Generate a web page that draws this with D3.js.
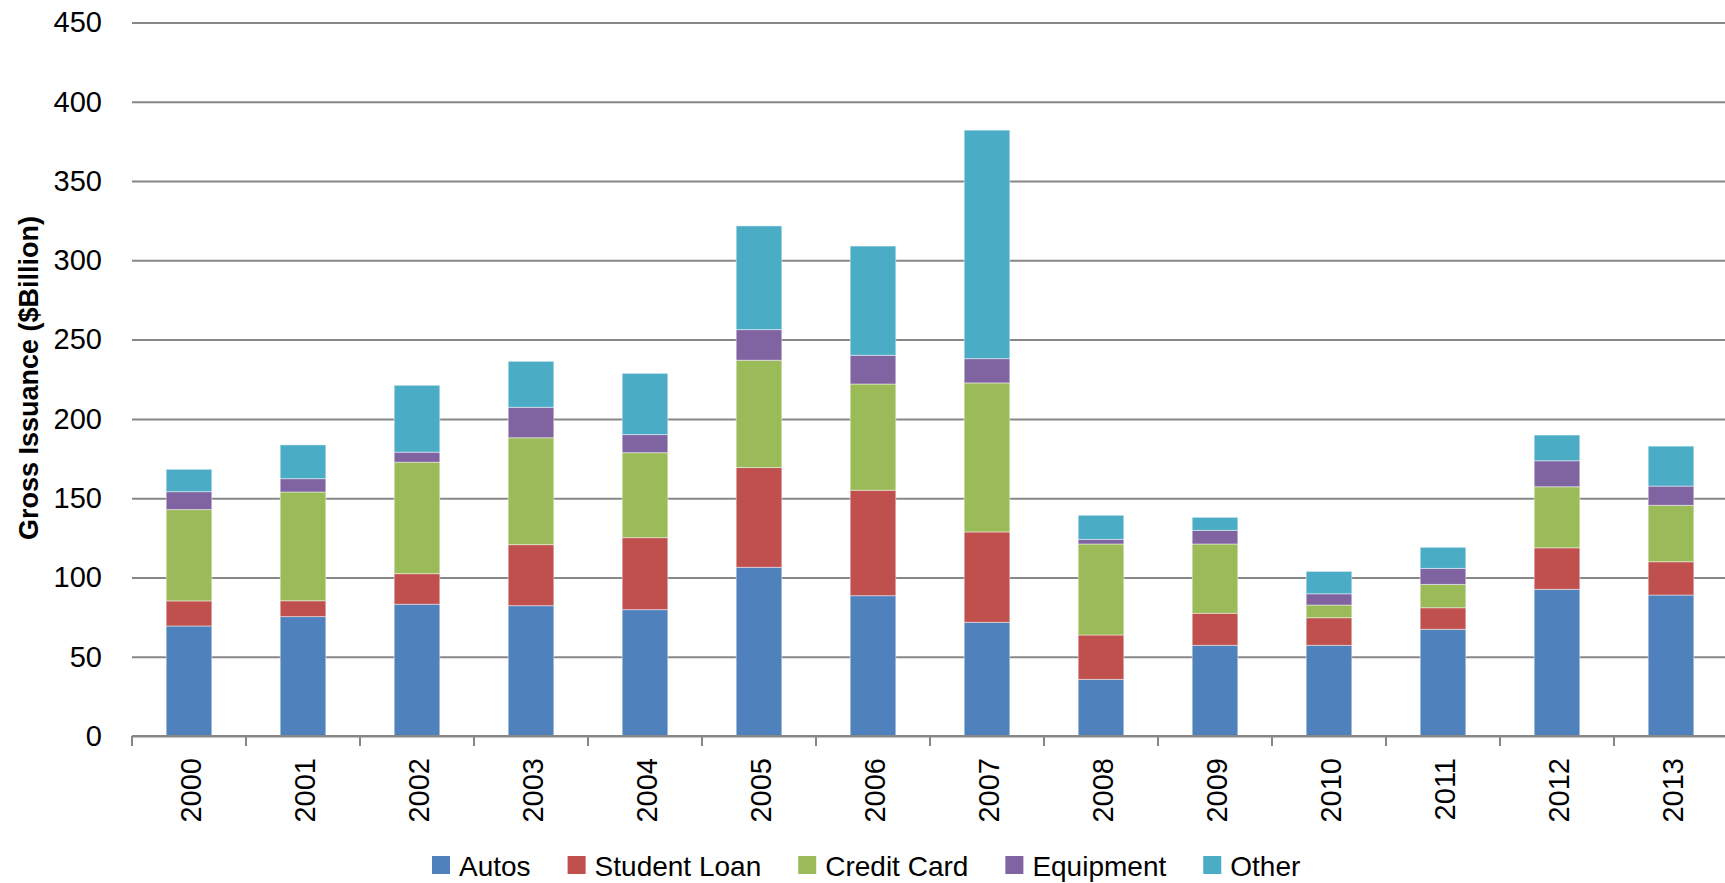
<!DOCTYPE html>
<html>
<head>
<meta charset="utf-8">
<script src="https://cdnjs.cloudflare.com/ajax/libs/d3/7.8.5/d3.min.js"></script>
<style>
  body { margin: 0; background: #fff; }
  text { font-family: "Liberation Sans", Arial, sans-serif; fill: #000; }
</style>
</head>
<body>
<svg id="chart" width="1725" height="883"></svg>
<script>
// values ($Billion)
var years = ["2000", "2001", "2002", "2003", "2004", "2005", "2006", "2007", "2008", "2009", "2010", "2011", "2012", "2013"];
var autos = [69.4, 75.3, 83.1, 82.2, 79.7, 106.4, 88.5, 71.7, 35.7, 57.2, 57.2, 67.3, 92.5, 88.9];
var studentLoan = [15.8, 10.0, 19.3, 38.5, 45.4, 62.9, 66.5, 57.0, 28.0, 20.2, 17.4, 13.6, 26.2, 21.0];
var creditCard = [57.6, 68.6, 70.3, 67.4, 53.6, 67.7, 67.0, 94.0, 57.4, 43.7, 8.0, 14.7, 38.5, 35.6];
var equipment = [11.3, 8.4, 6.3, 19.2, 11.4, 19.3, 18.1, 15.3, 2.9, 8.6, 7.1, 10.1, 16.4, 12.1];
var other = [14.1, 21.3, 42.2, 29.0, 38.6, 65.4, 68.9, 144.1, 15.2, 8.2, 14.1, 13.3, 16.2, 25.2];
var seriesNames = ["Autos", "Student Loan", "Credit Card", "Equipment", "Other"];
var seriesColors = ["#4F81BD", "#C0504D", "#9BBB59", "#8064A2", "#4BACC6"];
var yTicks = [0, 50, 100, 150, 200, 250, 300, 350, 400, 450];

var svg = d3.select("#chart");

var rows = years.map(function(y, i) {
    return { year: y, "Autos": autos[i], "Student Loan": studentLoan[i], "Credit Card": creditCard[i],
             "Equipment": equipment[i], "Other": other[i] };
});

var x = d3.scaleBand()
    .domain(years)
    .range([132, 1728])
    .paddingInner(0.6)
    .paddingOuter(0.3);

var y = d3.scaleLinear()
    .domain([0, 450])
    .range([736, 22.5]);

var color = d3.scaleOrdinal().domain(seriesNames).range(seriesColors);

// gridlines + y labels
var yAxis = svg.append("g")
    .attr("transform", "translate(132,0)")
    .call(d3.axisLeft(y).tickValues(yTicks).tickSize(-1600).tickPadding(30).tickFormat(d3.format("d")));
yAxis.select(".domain").remove();
yAxis.selectAll(".tick line")
    .attr("stroke", "#878787")
    .attr("stroke-width", 2);
yAxis.selectAll(".tick text")
    .style("font-size", "29px")
    .attr("fill", "#000");

// stacked bars
var stacked = d3.stack().keys(seriesNames)(rows);

svg.append("g")
    .selectAll("g")
    .data(stacked)
    .enter()
    .append("g")
    .attr("fill", function(d) { return color(d.key); })
    .selectAll("rect")
    .data(function(d) { return d; })
    .enter()
    .append("rect")
    .attr("x", function(d) { return x(d.data.year); })
    .attr("width", x.bandwidth())
    .attr("y", function(d) { return y(d[1]); })
    .attr("height", function(d) { return y(d[0]) - y(d[1]); })
    .attr("stroke", "rgba(255,255,255,0.45)")
    .attr("stroke-width", 1);

// x axis: line + ticks at band edges
var xAxis = svg.append("g").attr("transform", "translate(0,736)");
xAxis.append("line")
    .attr("x1", 132).attr("x2", 1725)
    .attr("stroke", "#878787")
    .attr("stroke-width", 2);
var step = x.step();
xAxis.selectAll(".xtick")
    .data(d3.range(years.length + 1))
    .enter()
    .append("line")
    .attr("x1", function(i) { return 132 + i * step; })
    .attr("x2", function(i) { return 132 + i * step; })
    .attr("y1", 0).attr("y2", 10)
    .attr("stroke", "#878787")
    .attr("stroke-width", 2);

xAxis.selectAll(".xlabel")
    .data(years)
    .enter()
    .append("text")
    .attr("transform", function(d) { return "translate(" + (x(d) + x.bandwidth() / 2 + 2) + ",22) rotate(-90)"; })
    .attr("text-anchor", "end")
    .attr("dy", "0.35em")
    .style("font-size", "29px")
    .text(function(d) { return d; });

// y axis title
svg.append("text")
    .attr("transform", "translate(29,378) rotate(-90)")
    .attr("text-anchor", "middle")
    .attr("dy", "0.35em")
    .style("font-size", "27px")
    .style("font-weight", "bold")
    .text("Gross Issuance ($Billion)");

// legend
var legend = svg.append("g")
    .attr("transform", "translate(432,876)");
var offset = 0;
seriesNames.forEach(function(name) {
    var item = legend.append("g").attr("transform", "translate(" + offset + ",0)");
    item.append("rect")
        .attr("x", 0).attr("y", -20)
        .attr("width", 18).attr("height", 18)
        .attr("fill", color(name));
    var t = item.append("text")
        .attr("x", 27)
        .style("font-size", "28px")
        .text(name);
    offset += 27 + t.node().getComputedTextLength() + 37;
});
</script>
</body>
</html>
